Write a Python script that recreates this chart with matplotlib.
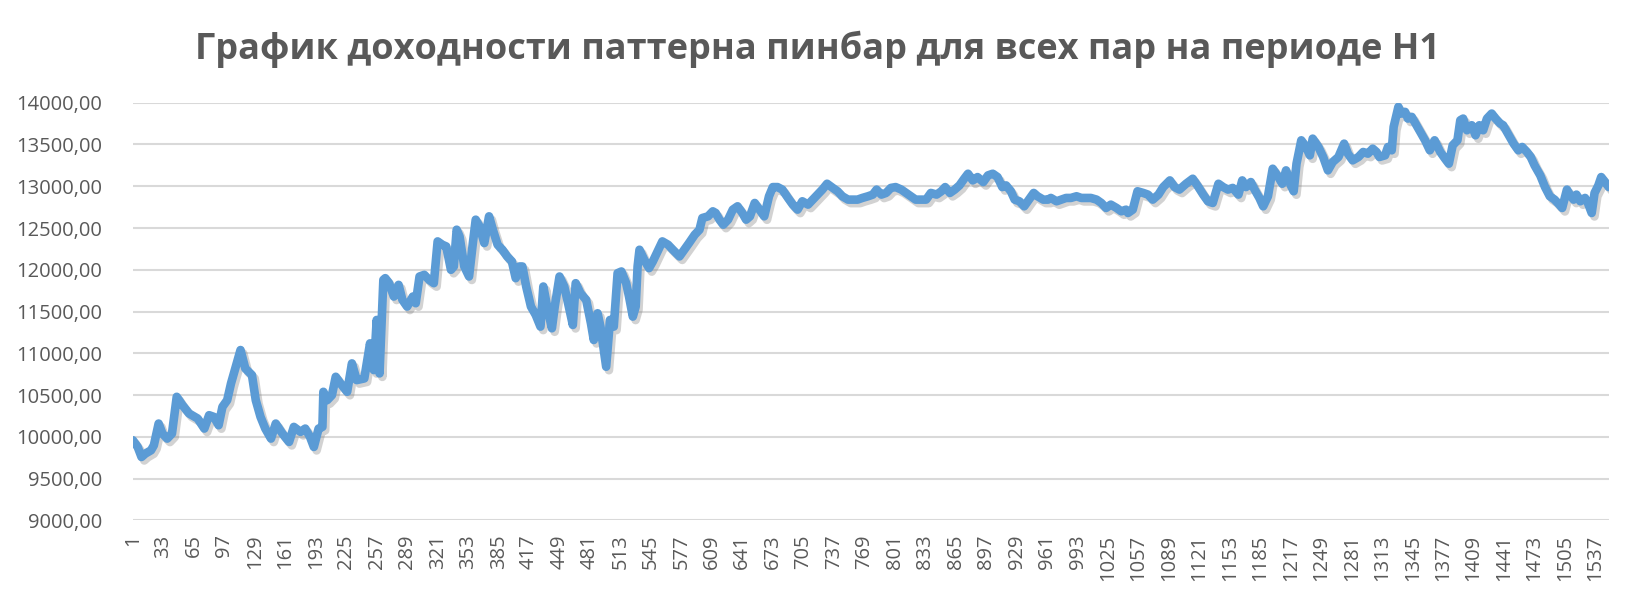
import matplotlib
matplotlib.use("Agg")
import matplotlib.pyplot as plt
import matplotlib.patheffects as pe

# Настройки шрифтов
plt.rcParams['font.family'] = ['Open Sans', 'DejaVu Sans']
plt.rcParams['text.color'] = '#595959'

title = 'График доходности паттерна пинбар для всех пар на периоде H1'

# номер сделки (по оси категорий) и значение баланса
n_points = 1551
trade_no = [
    1, 6, 10, 14, 20, 23, 28, 32, 37, 42, 47, 53, 60, 69, 76, 81, 86, 91, 95, 100,
    104, 109, 114, 119, 126, 130, 135, 140, 146, 151, 158, 165, 170, 177, 182, 187, 191, 196, 200, 201,
    205, 210, 214, 219, 226, 231, 236, 244, 250, 254, 257, 260, 264,
    266, 270, 275, 280, 284, 289, 295, 298, 302, 307, 312, 317, 321, 326, 330, 335, 338,
    341, 344, 349, 354, 358, 361, 365, 370, 375, 379, 384, 389, 394, 399, 403, 407, 410, 414,
    419, 424, 429, 432, 436, 441, 444, 449, 454, 458, 463, 466, 471, 477, 482, 485, 489, 492,
    498, 502, 506, 510, 514,
    519, 522, 526, 529, 531, 533, 538, 543, 547, 552, 557, 563, 568, 575, 580, 585, 591, 596,
    599, 605, 610, 613, 617, 621, 626, 631, 636, 641, 645, 649, 654, 659, 664, 669, 673, 678,
    683, 689, 694, 699, 704, 710, 715, 720, 725, 730, 736, 741, 746, 752, 757, 762, 767, 773,
    778, 782, 787, 792, 797, 802, 808, 813, 818, 823, 829, 834, 839, 845, 850, 854, 859, 864,
    869, 874, 878, 883, 888, 894, 899, 904, 909, 914, 918, 923, 927, 932, 937, 942, 947, 951,
    957, 962, 965, 971, 976, 981, 986, 992, 997, 1002, 1007, 1013, 1018, 1023, 1028, 1034, 1039, 1044,
    1046, 1051, 1056, 1062, 1067, 1072, 1078, 1083, 1090, 1095, 1100, 1107, 1114, 1120, 1125, 1130,
    1135, 1141, 1146, 1151, 1156, 1162, 1166, 1170, 1175, 1179, 1184, 1188, 1193, 1198, 1204, 1208,
    1212, 1217, 1220, 1223, 1228, 1233, 1237, 1240, 1246, 1251, 1256, 1261, 1267, 1273, 1277, 1282,
    1288, 1293, 1298,
    1303, 1307, 1310, 1316, 1319, 1323, 1325, 1330, 1333, 1337, 1340, 1344, 1347, 1352, 1358, 1363,
    1368, 1374, 1379, 1383, 1387, 1392, 1395, 1398, 1402, 1407, 1411, 1415, 1419, 1423, 1428, 1432,
    1437, 1440, 1445, 1451, 1456, 1460, 1465, 1469, 1473, 1479, 1484, 1489, 1494, 1499, 1502, 1507,
    1510, 1514, 1517, 1521, 1526, 1529, 1533, 1536, 1540, 1543, 1547, 1551,
]
balance = [
    9960, 9880, 9760, 9800, 9840, 9900, 10160, 10040, 9980, 10040, 10480, 10380, 10280, 10220, 10100, 10260, 10240, 10140, 10360, 10440,
    10640, 10840, 11040, 10820, 10740, 10440, 10240, 10100, 9980, 10160, 10040, 9940, 10120, 10060, 10100, 10000, 9880, 10100, 10120, 10540,
    10440, 10500, 10720, 10640, 10540, 10880, 10680, 10700, 11120, 10800, 11400, 10760, 11880,
    11900, 11840, 11680, 11820, 11640, 11560, 11680, 11600, 11920, 11940, 11880, 11840, 12340, 12300, 12280, 12000, 12040,
    12480, 12400, 12040, 11920, 12320, 12600, 12520, 12320, 12640, 12480, 12300, 12240, 12160, 12100, 11900, 12040, 12040, 11800,
    11560, 11460, 11320, 11800, 11560, 11300, 11560, 11920, 11800, 11600, 11340, 11840, 11720, 11640, 11360, 11160, 11480, 11320,
    10840, 11400, 11320, 11960, 11980,
    11840, 11680, 11440, 11560, 12040, 12240, 12120, 12020, 12100, 12220, 12340, 12300, 12240, 12160, 12240, 12320, 12420, 12480,
    12620, 12640, 12700, 12680, 12600, 12540, 12600, 12720, 12760, 12680, 12600, 12640, 12800, 12720, 12640, 12880, 12990, 12990,
    12960, 12860, 12780, 12720, 12820, 12780, 12840, 12900, 12960, 13030, 12980, 12940, 12880, 12840, 12840, 12840, 12860, 12880,
    12900, 12960, 12900, 12920, 12980, 12990, 12960, 12920, 12880, 12840, 12840, 12840, 12920, 12900, 12940, 12990, 12920, 12960,
    13010, 13090, 13150, 13070, 13110, 13050, 13130, 13150, 13110, 12990, 13010, 12940, 12840, 12820, 12760, 12840, 12920, 12880,
    12840, 12840, 12860, 12820, 12840, 12860, 12860, 12880, 12860, 12860, 12860, 12840, 12800, 12740, 12780, 12740, 12700, 12720,
    12680, 12720, 12940, 12920, 12900, 12840, 12900, 12990, 13070, 12990, 12960, 13030, 13090, 12990, 12900, 12820,
    12800, 13030, 12990, 12960, 12980, 12900, 13070, 12990, 13050, 12960, 12860, 12760, 12880, 13210, 13110, 13030,
    13190, 13010, 12940, 13270, 13550, 13470, 13370, 13570, 13470, 13350, 13190, 13290, 13350, 13510, 13390, 13310,
    13350, 13410, 13390,
    13450, 13410, 13350, 13370, 13470, 13430, 13710, 13950, 13870, 13890, 13810, 13830, 13770, 13670, 13550, 13430,
    13550, 13410, 13330, 13270, 13490, 13550, 13790, 13810, 13670, 13730, 13610, 13730, 13670, 13810, 13870, 13810,
    13750, 13730, 13630, 13510, 13430, 13470, 13410, 13350, 13250, 13130, 12990, 12880, 12840, 12780, 12740, 12960,
    12900, 12840, 12900, 12820, 12860, 12800, 12680, 12920, 13010, 13110, 13050, 12990,
]

y_ticks = [9000, 9500, 10000, 10500, 11000, 11500, 12000, 12500, 13000, 13500, 14000]
y_labels = ['9000,00', '9500,00', '10000,00', '10500,00', '11000,00', '11500,00',
            '12000,00', '12500,00', '13000,00', '13500,00', '14000,00']
x_ticks = list(range(1, 1538, 32))


def main():
    fig = plt.figure(figsize=(16.35, 5.96), dpi=100)
    ax = fig.add_axes([0.0813, 0.1267, 0.9027, 0.701])

    # линия с лёгкой тенью как в Excel
    ax.plot(trade_no, balance, color='#5B9BD5', linewidth=6.2, solid_joinstyle='round',
            solid_capstyle='round', zorder=3,
            path_effects=[pe.SimpleLineShadow(offset=(2, -2.5), shadow_color='#7f7f7f', alpha=0.35),
                          pe.Normal()])

    ax.set_xlim(1, n_points)
    ax.set_ylim(9000, 14000)
    ax.set_yticks(y_ticks)
    ax.set_yticklabels(y_labels)
    ax.set_xticks(x_ticks)
    ax.set_xticklabels([str(t) for t in x_ticks], rotation=90)

    ax.grid(axis='y', color='#D9D9D9', linewidth=1.5, zorder=0)
    ax.set_axisbelow(True)
    for s in ax.spines.values():
        s.set_visible(False)
    ax.tick_params(axis='both', length=0, labelsize=14.5, colors='#595959')
    ax.tick_params(axis='y', pad=22)
    ax.tick_params(axis='x', pad=10)

    fig.text(0.5, 0.918, title, ha='center', va='center', fontsize=26,
             fontweight='bold', color='#595959')

    fig.savefig('out.png', dpi=100)


if __name__ == "__main__":
    main()
